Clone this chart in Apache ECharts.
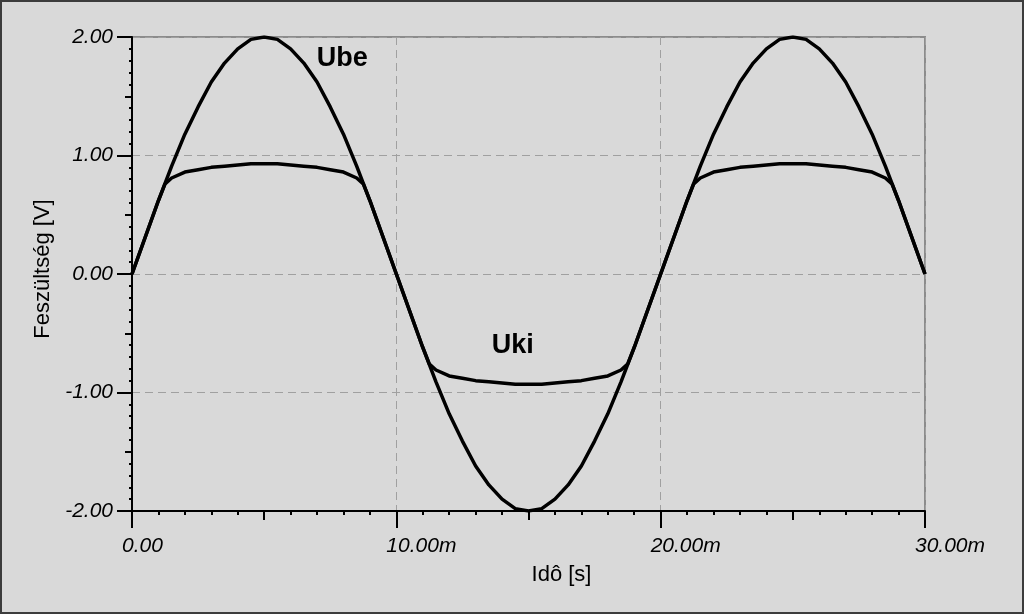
<!DOCTYPE html>
<html>
<head>
<meta charset="utf-8">
<script src="https://cdn.jsdelivr.net/npm/echarts@6/dist/echarts.min.js"></script>
<style>
html,body{margin:0;padding:0;background:#d9d9d9;}
#wrap{position:relative;width:1024px;height:614px;}
#chart{position:absolute;left:0;top:0;width:1024px;height:614px;}
#frame{position:absolute;left:0;top:0;width:1024px;height:614px;box-sizing:border-box;border:2px solid #3c3c3c;pointer-events:none;}
</style>
</head>
<body>
<div id="wrap"><div id="chart"></div><div id="frame"></div></div>
<script>
// time in ms
const ubeTimes = [0,0.5,1,1.5,2,2.5,3,3.5,4,4.5,5,5.5,6,6.5,7,7.5,8,8.5,9,9.5,10,
  10.5,11,11.5,12,12.5,13,13.5,14,14.5,15,15.5,16,16.5,17,17.5,18,18.5,19,19.5,20,
  20.5,21,21.5,22,22.5,23,23.5,24,24.5,25,25.5,26,26.5,27,27.5,28,28.5,29,29.5,30];
const ubeValues = [0,0.31,0.62,0.91,1.18,1.41,1.62,1.78,1.90,1.98,2.00,1.98,1.90,1.78,1.62,1.41,1.18,0.91,0.62,0.31,0,
  -0.31,-0.62,-0.91,-1.18,-1.41,-1.62,-1.78,-1.90,-1.98,-2.00,-1.98,-1.90,-1.78,-1.62,-1.41,-1.18,-0.91,-0.62,-0.31,0,
  0.31,0.62,0.91,1.18,1.41,1.62,1.78,1.90,1.98,2.00,1.98,1.90,1.78,1.62,1.41,1.18,0.91,0.62,0.31,0];
const ukiTimes = [0,0.5,1,1.25,1.5,2,2.5,3,3.5,4,4.5,5,5.5,6,6.5,7,7.5,8,8.5,8.75,9,9.5,10,
  10.5,11,11.25,11.5,12,12.5,13,13.5,14,14.5,15,15.5,16,16.5,17,17.5,18,18.5,18.75,19,19.5,20,
  20.5,21,21.25,21.5,22,22.5,23,23.5,24,24.5,25,25.5,26,26.5,27,27.5,28,28.5,28.75,29,29.5,30];
const ukiValues = [0,0.31,0.62,0.76,0.81,0.86,0.88,0.90,0.91,0.92,0.93,0.93,0.93,0.92,0.91,0.90,0.88,0.86,0.81,0.76,0.62,0.31,0,
  -0.31,-0.62,-0.76,-0.81,-0.86,-0.88,-0.90,-0.91,-0.92,-0.93,-0.93,-0.93,-0.92,-0.91,-0.90,-0.88,-0.86,-0.81,-0.76,-0.62,-0.31,0,
  0.31,0.62,0.76,0.81,0.86,0.88,0.90,0.91,0.92,0.93,0.93,0.93,0.92,0.91,0.90,0.88,0.86,0.81,0.76,0.62,0.31,0];
const xTickValues = [0,10,20,30];
const xTickLabels = ['0.00','10.00m','20.00m','30.00m'];
const yTickValues = [-2,-1,0,1,2];
const yTickLabels = ['-2.00','-1.00','0.00','1.00','2.00'];
const seriesNames = ['Ube','Uki'];
const ubeLabelAt = [7.95, 1.82];
const ukiLabelAt = [14.4, -0.60];
const xTitle = 'Idô [s]';
const yTitle = 'Feszültség [V]';

const zip = (t, v) => t.map((x, i) => [x, v[i]]);
const font = 'Liberation Sans, Arial, sans-serif';
const chart = echarts.init(document.getElementById('chart'), null, {renderer: 'canvas'});

const baseX = {type:'value', min:0, max:30, gridIndex:0, position:'bottom', offset:0};
const baseY = {type:'value', min:-2, max:2, gridIndex:0, position:'left', offset:0};
const hiddenParts = {axisLine:{show:false, onZero:false}, axisLabel:{show:false}, splitLine:{show:false}};

const markLabel = (name, coord) => ({
  symbol:'circle', symbolSize:1, itemStyle:{color:'rgba(0,0,0,0)'},
  label:{show:true, position:'inside', formatter:'{b}', color:'#000', fontFamily:font, fontWeight:'bold', fontSize:27},
  data:[{name:name, coord:coord}]
});

chart.setOption({
  animation:false,
  backgroundColor:'#d9d9d9',
  grid:{left:132, right:99, top:37, bottom:103, show:true, borderColor:'#8c8c8c', borderWidth:2, backgroundColor:'transparent', containLabel:false, outerBoundsMode:'none'},
  xAxis:[
    Object.assign({}, baseX, {
      interval:10,
      axisLine:{show:true, onZero:false, lineStyle:{color:'#000', width:2}},
      axisTick:{show:true, length:17, lineStyle:{color:'#000', width:2}},
      minorTick:{show:true, splitNumber:10, length:4, lineStyle:{color:'#000', width:2}},
      axisLabel:{show:true, margin:25, align:'left', padding:[0,0,0,-10], color:'#000', fontFamily:font, fontStyle:'italic', fontSize:21,
        showMinLabel:true, showMaxLabel:true,
        formatter:(v)=>{const i = xTickValues.indexOf(v); return i>=0 ? xTickLabels[i] : '';}},
      splitLine:{show:true, lineStyle:{color:'#a0a0a0', width:1, type:[8,5]}},
      name:xTitle, nameLocation:'middle', nameGap:53,
      nameTextStyle:{color:'#000', fontFamily:font, fontSize:22, padding:[0,0,0,66]}
    }),
    Object.assign({}, baseX, hiddenParts, {
      interval:5,
      axisTick:{show:true, length:9, lineStyle:{color:'#000', width:2}}
    })
  ],
  yAxis:[
    Object.assign({}, baseY, {
      interval:1,
      axisLine:{show:true, onZero:false, lineStyle:{color:'#000', width:2}},
      axisTick:{show:true, length:15, lineStyle:{color:'#000', width:2}},
      minorTick:{show:true, splitNumber:10, length:3, lineStyle:{color:'#000', width:2}},
      axisLabel:{show:true, margin:19, color:'#000', fontFamily:font, fontStyle:'italic', fontSize:21,
        showMinLabel:true, showMaxLabel:true,
        formatter:(v)=>{const i = yTickValues.indexOf(v); return i>=0 ? yTickLabels[i] : '';}},
      splitLine:{show:true, lineStyle:{color:'#a0a0a0', width:1, type:[8,5]}},
      name:yTitle, nameLocation:'middle', nameGap:78, nameRotate:90,
      nameTextStyle:{color:'#000', fontFamily:font, fontSize:22, padding:[0,0,0,10]}
    }),
    Object.assign({}, baseY, hiddenParts, {
      interval:0.5,
      axisTick:{show:true, length:7, lineStyle:{color:'#000', width:2}}
    })
  ],
  series:[
    {name:seriesNames[0], type:'line', xAxisIndex:0, yAxisIndex:0, data:zip(ubeTimes, ubeValues),
     showSymbol:false, symbol:'none', lineStyle:{color:'#000', width:3.5}, z:3,
     markPoint:markLabel(seriesNames[0], ubeLabelAt)},
    {name:seriesNames[1], type:'line', xAxisIndex:0, yAxisIndex:0, data:zip(ukiTimes, ukiValues),
     showSymbol:false, symbol:'none', lineStyle:{color:'#000', width:3.5}, z:3,
     markPoint:markLabel(seriesNames[1], ukiLabelAt)}
  ]
});
</script>
</body>
</html>
